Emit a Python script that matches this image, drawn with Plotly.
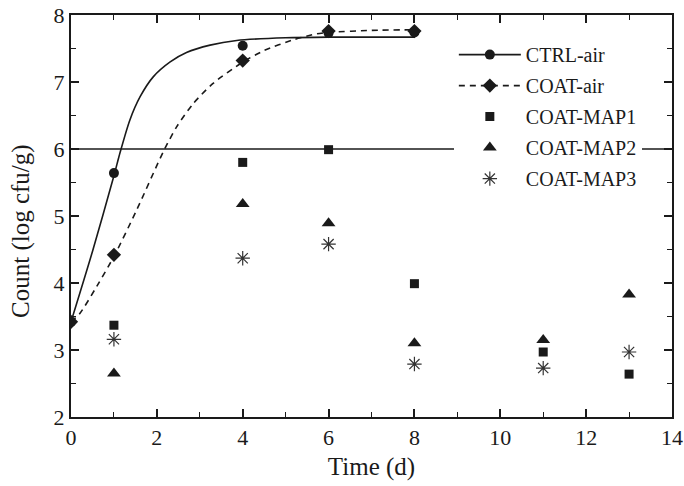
import plotly.graph_objects as go

# Observed data
t_obs = [0, 1, 4, 6, 8]
ctrl_air = [3.42, 5.64, 7.54, 7.73, 7.74]
coat_air = [3.42, 4.42, 7.32, 7.76, 7.76]

t_map = [1, 4, 6, 8, 11, 13]
coat_map1 = [3.37, 5.80, 5.99, 3.99, 2.97, 2.64]
coat_map2 = [2.65, 5.18, 4.89, 3.10, 3.15, 3.83]
coat_map3 = [3.16, 4.37, 4.58, 2.79, 2.73, 2.97]

# Fitted curves
ctrl_fit_t = [0, 0.5, 1.0, 1.14, 1.37, 1.61, 1.92, 2.31, 2.69, 3.24, 3.86, 5.0, 6.0, 8.0]
ctrl_fit_y = [3.42, 4.47, 5.60, 5.94, 6.43, 6.78, 7.08, 7.30, 7.44, 7.55, 7.62, 7.66, 7.67, 7.67]
coat_fit_t = [0, 0.21, 0.6, 1.02, 1.53, 2.15, 2.46, 2.85, 3.31, 4.01, 4.5, 5.18, 5.73, 6.0, 7.0, 8.0]
coat_fit_y = [3.42, 3.55, 3.95, 4.42, 5.09, 5.96, 6.33, 6.68, 6.98, 7.30, 7.47, 7.63, 7.72, 7.74, 7.77, 7.78]

limit_y = 6.0

ink = "#1a1a1a"
font = "Liberation Serif"
dash = "6px,5px"

fig = go.Figure()

fig.add_trace(go.Scatter(x=ctrl_fit_t, y=ctrl_fit_y, mode="lines",
                         line=dict(color=ink, width=1.6, shape="spline", smoothing=0.7),
                         showlegend=False, hoverinfo="skip"))
fig.add_trace(go.Scatter(x=coat_fit_t, y=coat_fit_y, mode="lines",
                         line=dict(color=ink, width=1.6, dash=dash, shape="spline", smoothing=0.7),
                         showlegend=False, hoverinfo="skip"))

fig.add_trace(go.Scatter(x=t_obs, y=ctrl_air, mode="markers", name="CTRL-air", legendgroup="a",
                         showlegend=False, marker=dict(symbol="circle", size=10, color=ink)))
fig.add_trace(go.Scatter(x=t_obs, y=coat_air, mode="markers", name="COAT-air", legendgroup="b",
                         showlegend=False, marker=dict(symbol="diamond", size=11, color=ink)))

# legend entries for the fitted series (line + marker)
fig.add_trace(go.Scatter(x=[None], y=[None], mode="lines+markers", name="CTRL-air", legendgroup="a",
                         line=dict(color=ink, width=1.6),
                         marker=dict(symbol="circle", size=10, color=ink)))
fig.add_trace(go.Scatter(x=[None], y=[None], mode="lines+markers", name="COAT-air", legendgroup="b",
                         line=dict(color=ink, width=1.6, dash=dash),
                         marker=dict(symbol="diamond", size=11, color=ink)))

fig.add_trace(go.Scatter(x=t_map, y=coat_map1, mode="markers", name="COAT-MAP1", legendgroup="c",
                         marker=dict(symbol="square", size=9, color=ink)))
fig.add_trace(go.Scatter(x=t_map, y=coat_map2, mode="markers", name="COAT-MAP2", legendgroup="d",
                         marker=dict(symbol="triangle-up", size=12, color=ink)))
fig.add_trace(go.Scatter(x=t_map, y=coat_map3, mode="markers", name="COAT-MAP3", legendgroup="e",
                         marker=dict(symbol="asterisk-open", size=12, color="#333",
                                     line=dict(color="#333", width=1.2))))

fig.add_shape(type="line", xref="paper", yref="y", x0=0, x1=1, y0=limit_y, y1=limit_y,
              line=dict(color=ink, width=1.6), layer="below")

axis_common = dict(showline=True, linecolor=ink, linewidth=2, mirror="ticks", ticks="inside",
                   ticklen=8, tickwidth=1.6, tickcolor=ink, showgrid=False, zeroline=False,
                   automargin=False,
                   tickfont=dict(family=font, size=22, color=ink))

fig.update_xaxes(range=[0, 14], dtick=2, tick0=0,
                 minor=dict(dtick=1, ticks="inside", ticklen=5, tickwidth=1.4, tickcolor=ink),
                 title=dict(text="Time (d)", font=dict(family=font, size=25, color=ink), standoff=8),
                 **axis_common)
fig.update_yaxes(range=[2, 8], dtick=1, tick0=2,
                 minor=dict(dtick=0.5, ticks="inside", ticklen=5, tickwidth=1.4, tickcolor=ink),
                 **axis_common)

fig.add_annotation(text="Count (log cfu/g)", textangle=-90, xref="paper", yref="paper",
                   x=-0.083, y=0.463, xanchor="center", yanchor="middle", showarrow=False,
                   font=dict(family=font, size=25, color=ink))

fig.update_layout(
    width=684, height=486,
    margin=dict(l=71, r=12, t=15, b=69),
    paper_bgcolor="white", plot_bgcolor="white",
    font=dict(family=font, color=ink),
    legend=dict(x=0.637, y=0.95, xanchor="left", yanchor="top", bgcolor="white",
                font=dict(family=font, size=20, color=ink), itemwidth=62, tracegroupgap=2,
                borderwidth=0),
)

fig.write_html("out.html", config={"displayModeBar": False},
               post_script="document.body.style.margin='0px';")
